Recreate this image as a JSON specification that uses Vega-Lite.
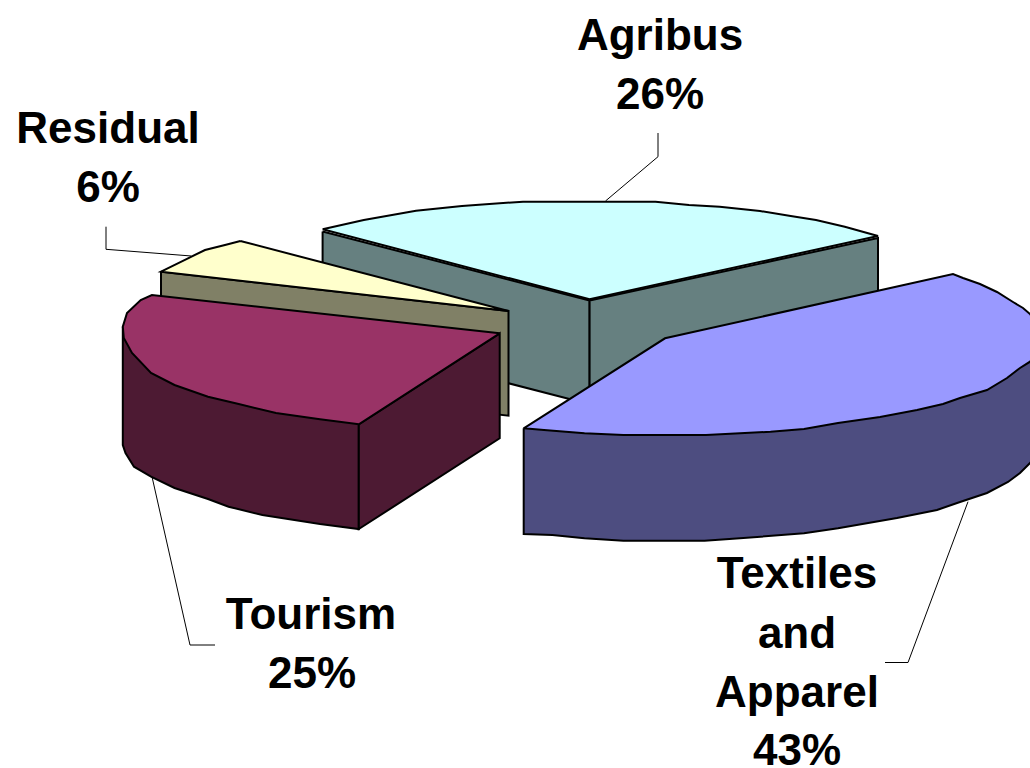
{"$schema":"https://vega.github.io/schema/vega-lite/v6.json","width":1030,"height":768,"padding":0,"autosize":{"type":"none"},"background":"white","config":{"view":{"stroke":null}},
"datasets":{
"shapes":[
{"part":"a1 Agribus side left","seq":1,"x":322.6,"y":231.5},{"part":"a1 Agribus side left","seq":2,"x":589.6,"y":300.5},{"part":"a1 Agribus side left","seq":3,"x":589.6,"y":404.3},{"part":"a1 Agribus side left","seq":4,"x":322.6,"y":335},{"part":"a1 Agribus side left","seq":5,"x":322.6,"y":231.5},
{"part":"a2 Agribus side right","seq":1,"x":589.6,"y":300.5},{"part":"a2 Agribus side right","seq":2,"x":878,"y":238},{"part":"a2 Agribus side right","seq":3,"x":878,"y":341},{"part":"a2 Agribus side right","seq":4,"x":589.6,"y":404.3},{"part":"a2 Agribus side right","seq":5,"x":589.6,"y":300.5},
{"part":"a3 Agribus top","seq":1,"x":322.6,"y":229.3},{"part":"a3 Agribus top","seq":2,"x":363.8,"y":220},{"part":"a3 Agribus top","seq":3,"x":416,"y":210.7},{"part":"a3 Agribus top","seq":4,"x":462,"y":206},{"part":"a3 Agribus top","seq":5,"x":523,"y":201.7},{"part":"a3 Agribus top","seq":6,"x":655.5,"y":201.7},{"part":"a3 Agribus top","seq":7,"x":689,"y":205},{"part":"a3 Agribus top","seq":8,"x":719.7,"y":206.7},{"part":"a3 Agribus top","seq":9,"x":760,"y":211},{"part":"a3 Agribus top","seq":10,"x":790.7,"y":216},{"part":"a3 Agribus top","seq":11,"x":816,"y":220},{"part":"a3 Agribus top","seq":12,"x":844.8,"y":226.7},{"part":"a3 Agribus top","seq":13,"x":878,"y":236},{"part":"a3 Agribus top","seq":14,"x":589.6,"y":299.3},{"part":"a3 Agribus top","seq":15,"x":322.6,"y":229.3},
{"part":"b1 Residual side","seq":1,"x":161,"y":271.7},{"part":"b1 Residual side","seq":2,"x":508.5,"y":311},{"part":"b1 Residual side","seq":3,"x":508.5,"y":415.7},{"part":"b1 Residual side","seq":4,"x":161,"y":376},{"part":"b1 Residual side","seq":5,"x":161,"y":271.7},
{"part":"b2 Residual top","seq":1,"x":240.4,"y":241},{"part":"b2 Residual top","seq":2,"x":225,"y":245},{"part":"b2 Residual top","seq":3,"x":205,"y":250},{"part":"b2 Residual top","seq":4,"x":188,"y":258.3},{"part":"b2 Residual top","seq":5,"x":161,"y":271.7},{"part":"b2 Residual top","seq":6,"x":508.5,"y":311},{"part":"b2 Residual top","seq":7,"x":240.4,"y":241},
{"part":"c1 Tourism side","seq":1,"x":122.8,"y":326.7},{"part":"c1 Tourism side","seq":2,"x":122.8,"y":445},{"part":"c1 Tourism side","seq":3,"x":125.5,"y":453},{"part":"c1 Tourism side","seq":4,"x":134,"y":466.7},{"part":"c1 Tourism side","seq":5,"x":151,"y":476.7},{"part":"c1 Tourism side","seq":6,"x":174.5,"y":488},{"part":"c1 Tourism side","seq":7,"x":208,"y":499},{"part":"c1 Tourism side","seq":8,"x":228.6,"y":506.7},{"part":"c1 Tourism side","seq":9,"x":262.4,"y":515},{"part":"c1 Tourism side","seq":10,"x":320,"y":524},{"part":"c1 Tourism side","seq":11,"x":358.8,"y":529},{"part":"c1 Tourism side","seq":12,"x":358.8,"y":424.3},{"part":"c1 Tourism side","seq":13,"x":122.8,"y":326.7},
{"part":"c2 Tourism side right","seq":1,"x":358.8,"y":424.3},{"part":"c2 Tourism side right","seq":2,"x":499.7,"y":333.3},{"part":"c2 Tourism side right","seq":3,"x":499.7,"y":438.3},{"part":"c2 Tourism side right","seq":4,"x":358.8,"y":529},{"part":"c2 Tourism side right","seq":5,"x":358.8,"y":424.3},
{"part":"c3 Tourism top","seq":1,"x":499.7,"y":333.3},{"part":"c3 Tourism top","seq":2,"x":151.9,"y":295},{"part":"c3 Tourism top","seq":3,"x":140.7,"y":300},{"part":"c3 Tourism top","seq":4,"x":127,"y":313},{"part":"c3 Tourism top","seq":5,"x":122.8,"y":326.7},{"part":"c3 Tourism top","seq":6,"x":123.8,"y":338},{"part":"c3 Tourism top","seq":7,"x":132,"y":353},{"part":"c3 Tourism top","seq":8,"x":151,"y":373},{"part":"c3 Tourism top","seq":9,"x":174.5,"y":385},{"part":"c3 Tourism top","seq":10,"x":208,"y":396.7},{"part":"c3 Tourism top","seq":11,"x":238.7,"y":404},{"part":"c3 Tourism top","seq":12,"x":276,"y":413},{"part":"c3 Tourism top","seq":13,"x":320,"y":419.3},{"part":"c3 Tourism top","seq":14,"x":358.8,"y":424.3},{"part":"c3 Tourism top","seq":15,"x":499.7,"y":333.3},
{"part":"d1 Textiles side","seq":1,"x":523.7,"y":428.3},{"part":"d1 Textiles side","seq":2,"x":523.7,"y":534},{"part":"d1 Textiles side","seq":3,"x":552.4,"y":535},{"part":"d1 Textiles side","seq":4,"x":584.5,"y":538.3},{"part":"d1 Textiles side","seq":5,"x":623.4,"y":540.7},{"part":"d1 Textiles side","seq":6,"x":704.5,"y":540.7},{"part":"d1 Textiles side","seq":7,"x":740,"y":538.3},{"part":"d1 Textiles side","seq":8,"x":804,"y":533.3},{"part":"d1 Textiles side","seq":9,"x":838,"y":528.3},{"part":"d1 Textiles side","seq":10,"x":897,"y":518},{"part":"d1 Textiles side","seq":11,"x":937,"y":510},{"part":"d1 Textiles side","seq":12,"x":960,"y":502},{"part":"d1 Textiles side","seq":13,"x":987,"y":493},{"part":"d1 Textiles side","seq":14,"x":1008,"y":482},{"part":"d1 Textiles side","seq":15,"x":1020,"y":473},{"part":"d1 Textiles side","seq":16,"x":1030,"y":463},{"part":"d1 Textiles side","seq":17,"x":1045,"y":445},{"part":"d1 Textiles side","seq":18,"x":1045,"y":340},{"part":"d1 Textiles side","seq":19,"x":523.7,"y":428.3},
{"part":"d2 Textiles top","seq":1,"x":523.7,"y":428.3},{"part":"d2 Textiles top","seq":2,"x":665,"y":338.3},{"part":"d2 Textiles top","seq":3,"x":953,"y":274},{"part":"d2 Textiles top","seq":4,"x":963,"y":278},{"part":"d2 Textiles top","seq":5,"x":980,"y":284},{"part":"d2 Textiles top","seq":6,"x":997,"y":292},{"part":"d2 Textiles top","seq":7,"x":1013,"y":302},{"part":"d2 Textiles top","seq":8,"x":1023,"y":308},{"part":"d2 Textiles top","seq":9,"x":1030,"y":314},{"part":"d2 Textiles top","seq":10,"x":1045,"y":335},{"part":"d2 Textiles top","seq":11,"x":1045,"y":345},{"part":"d2 Textiles top","seq":12,"x":1030,"y":361.7},{"part":"d2 Textiles top","seq":13,"x":1020,"y":368},{"part":"d2 Textiles top","seq":14,"x":1007,"y":378},{"part":"d2 Textiles top","seq":15,"x":987,"y":390},{"part":"d2 Textiles top","seq":16,"x":960,"y":398},{"part":"d2 Textiles top","seq":17,"x":943,"y":404},{"part":"d2 Textiles top","seq":18,"x":917,"y":410},{"part":"d2 Textiles top","seq":19,"x":880,"y":417},{"part":"d2 Textiles top","seq":20,"x":838,"y":423},{"part":"d2 Textiles top","seq":21,"x":804,"y":429},{"part":"d2 Textiles top","seq":22,"x":770.5,"y":431.7},{"part":"d2 Textiles top","seq":23,"x":740,"y":433.3},{"part":"d2 Textiles top","seq":24,"x":706,"y":435},{"part":"d2 Textiles top","seq":25,"x":623.4,"y":435},{"part":"d2 Textiles top","seq":26,"x":584.5,"y":433.3},{"part":"d2 Textiles top","seq":27,"x":544,"y":430},{"part":"d2 Textiles top","seq":28,"x":523.7,"y":428.3}
],
"leaders":[
{"slice":"Agribus","seq":1,"x":658,"y":133},{"slice":"Agribus","seq":2,"x":658,"y":156.7},{"slice":"Agribus","seq":3,"x":605.5,"y":201},
{"slice":"Residual","seq":1,"x":106,"y":226.7},{"slice":"Residual","seq":2,"x":106,"y":249.3},{"slice":"Residual","seq":3,"x":191.4,"y":256},
{"slice":"Tourism","seq":1,"x":152,"y":476.7},{"slice":"Tourism","seq":2,"x":190,"y":645},{"slice":"Tourism","seq":3,"x":215,"y":645},
{"slice":"Textiles","seq":1,"x":968,"y":501.7},{"slice":"Textiles","seq":2,"x":908,"y":662.5},{"slice":"Textiles","seq":3,"x":885,"y":662.5}
],
"labels":[
{"text":"Agribus","x":660,"y":50},{"text":"26%","x":660,"y":109},
{"text":"Residual","x":108,"y":143},{"text":"6%","x":108,"y":202},
{"text":"Tourism","x":311,"y":629},{"text":"25%","x":312,"y":688},
{"text":"Textiles","x":797,"y":588},{"text":"and","x":797,"y":648},{"text":"Apparel","x":797,"y":707},{"text":"43%","x":797,"y":765}
]},
"layer":[
{"data":{"name":"leaders"},"mark":{"type":"line","stroke":"black","strokeWidth":1,"clip":true},"encoding":{"x":{"field":"x","type":"quantitative","scale":{"domain":[0,1030],"nice":false,"zero":false},"axis":null},"y":{"field":"y","type":"quantitative","scale":{"domain":[768,0],"nice":false,"zero":false},"axis":null},"detail":{"field":"slice"},"order":{"field":"seq","type":"quantitative"}}},
{"data":{"name":"shapes"},"mark":{"type":"line","stroke":"black","strokeWidth":2,"strokeJoin":"miter","clip":true},"encoding":{"x":{"field":"x","type":"quantitative","scale":{"domain":[0,1030],"nice":false,"zero":false},"axis":null},"y":{"field":"y","type":"quantitative","scale":{"domain":[768,0],"nice":false,"zero":false},"axis":null},"order":{"field":"seq","type":"quantitative"},"fill":{"field":"part","type":"nominal","legend":null,"scale":{"domain":["a1 Agribus side left","a2 Agribus side right","a3 Agribus top","b1 Residual side","b2 Residual top","c1 Tourism side","c2 Tourism side right","c3 Tourism top","d1 Textiles side","d2 Textiles top"],"range":["#668080","#668080","#CCFFFF","#808066","#FFFFCC","#4D1A33","#4D1A33","#993366","#4D4D80","#9999FF"]}}}},
{"data":{"name":"labels"},"mark":{"type":"text","font":"Liberation Sans","fontWeight":"bold","fontSize":44,"align":"center","baseline":"alphabetic","fill":"black"},"encoding":{"x":{"field":"x","type":"quantitative","scale":{"domain":[0,1030],"nice":false,"zero":false},"axis":null},"y":{"field":"y","type":"quantitative","scale":{"domain":[768,0],"nice":false,"zero":false},"axis":null},"text":{"field":"text","type":"nominal"}}}
]}
